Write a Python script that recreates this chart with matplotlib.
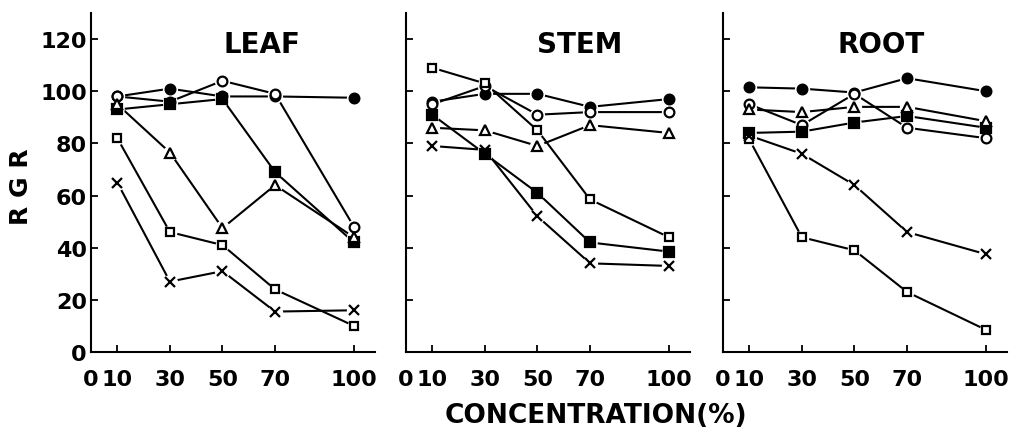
import matplotlib.pyplot as plt

# concentrations (%)
conc = [10, 30, 50, 70, 100]

# RGR values, one list per symbol
leaf_filled_circle = [98, 101, 98, 98, 97.5]
leaf_open_circle = [98, 96, 104, 99, 48]
leaf_filled_square = [93, 95, 97, 69, 42]
leaf_open_triangle = [95, 76.5, 47.5, 64, 44]
leaf_open_square = [82, 46, 41, 24, 10]
leaf_cross = [65, 27, 31, 15.5, 16]

stem_filled_circle = [96, 99, 99, 94, 97]
stem_open_circle = [95, 102, 91, 92, 92]
stem_filled_square = [91, 76, 61, 42, 38.5]
stem_open_triangle = [86, 85, 79, 87, 84]
stem_open_square = [109, 103, 85, 58.5, 44]
stem_cross = [79, 77.5, 52, 34, 33]

root_filled_circle = [101.5, 101, 99.5, 105, 100]
root_open_circle = [95, 87, 99, 86, 82]
root_filled_square = [84, 84.5, 88, 90.5, 86]
root_open_triangle = [93, 92, 94, 94, 88.5]
root_open_square = [81.5, 44, 39, 23, 8.5]
root_cross = [83, 76, 64, 46, 37.5]

panels = [
    ('LEAF', 65, [leaf_filled_circle, leaf_open_circle, leaf_filled_square,
                  leaf_open_triangle, leaf_open_square, leaf_cross]),
    ('STEM', 66, [stem_filled_circle, stem_open_circle, stem_filled_square,
                  stem_open_triangle, stem_open_square, stem_cross]),
    ('ROOT', 60, [root_filled_circle, root_open_circle, root_filled_square,
                  root_open_triangle, root_open_square, root_cross]),
]

# marker, face colour, size for each series (same order as above)
styles = [
    ('o', 'black', 7),
    ('o', 'white', 7),
    ('s', 'black', 6.5),
    ('^', 'white', 7),
    ('s', 'white', 6),
    ('x', 'black', 7),
]

fig = plt.figure(figsize=(10.22, 4.31), dpi=100)
lefts = [91, 406, 723]
width_px = 284
bottom_px = 78
height_px = 339

for i, (name, tx, series) in enumerate(panels):
    ax = fig.add_axes([lefts[i] / 1022, bottom_px / 431,
                       width_px / 1022, height_px / 431])
    # lines first, then a white halo so lines stop short of the symbols
    for vals in series:
        ax.plot(conc, vals, color='black', linewidth=1.5, zorder=2)
    for vals, (m, fc, ms) in zip(series, styles):
        ax.plot(conc, vals, linestyle='none', marker='o', markersize=ms + 4,
                markerfacecolor='white', markeredgecolor='none', zorder=3)
    for vals, (m, fc, ms) in zip(series, styles):
        ax.plot(conc, vals, linestyle='none', marker=m, markersize=ms,
                markerfacecolor=fc, markeredgecolor='black',
                markeredgewidth=1.6, zorder=4)

    ax.set_xlim(0, 108)
    ax.set_ylim(0, 130)
    ax.set_xticks([0, 10, 30, 50, 70, 100])
    ax.set_yticks([0, 20, 40, 60, 80, 100, 120])
    ax.tick_params(direction='in', length=5, width=1.3)
    ax.tick_params(axis='x', pad=12)
    ax.tick_params(axis='y', pad=3)
    for side in ['top', 'right']:
        ax.spines[side].set_visible(False)
    for side in ['left', 'bottom']:
        ax.spines[side].set_linewidth(1.5)

    for lab in ax.get_xticklabels():
        lab.set_fontsize(16)
        lab.set_fontweight('bold')
    if i == 0:
        for lab in ax.get_yticklabels():
            lab.set_fontsize(16)
            lab.set_fontweight('bold')
        ax.set_ylabel('R G R', fontsize=18, fontweight='bold')
        ax.yaxis.set_label_coords(-0.205, 0.49)
    else:
        ax.set_yticklabels([])

    ax.text(tx, 118, name, ha='center', va='center', fontsize=20,
            fontweight='bold')

fig.text(596 / 1022, 1 - 416 / 431, 'CONCENTRATION(%)',
         ha='center', va='center', fontsize=19, fontweight='bold')

plt.savefig('out.png', dpi=100)
plt.close()
